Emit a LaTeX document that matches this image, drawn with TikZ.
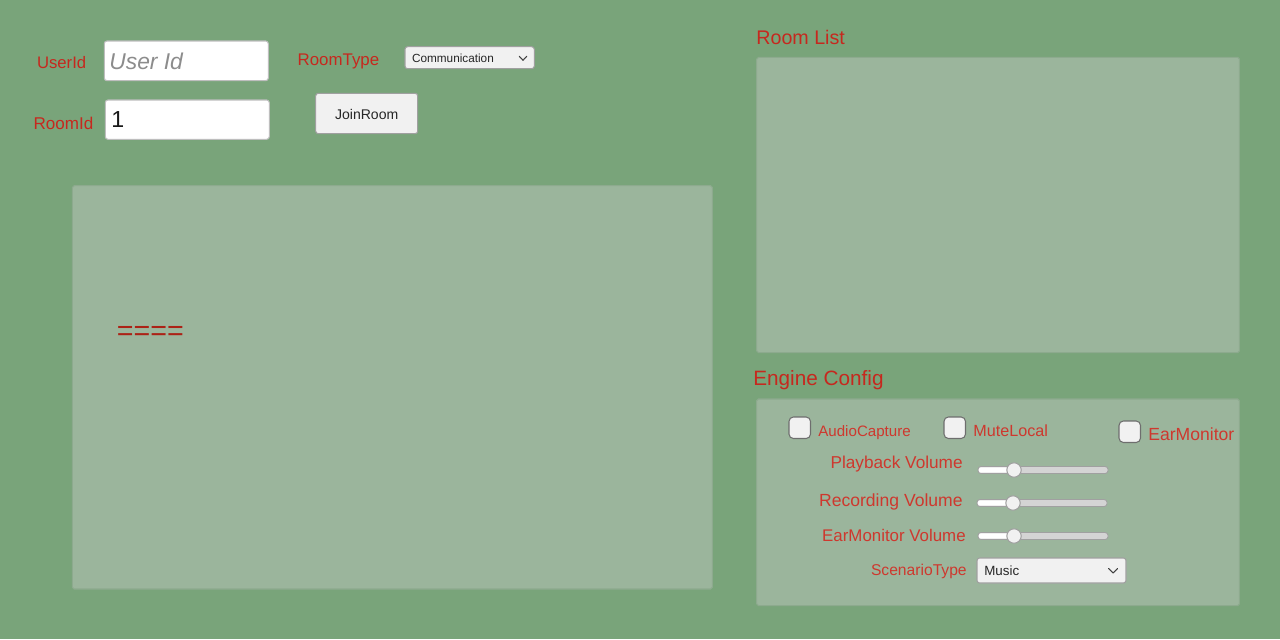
\documentclass[tikz,border=0pt]{standalone}
\usepackage{fontspec}
\setmainfont{Liberation Sans}
\usepackage{xcolor}
\usepackage{tikz}
\usetikzlibrary{positioning}
\definecolor{bggreen}{RGB}{121,164,122}
\definecolor{panelfill}{RGB}{155,181,156}
\definecolor{panelline}{RGB}{141,170,142}
\definecolor{labelred}{RGB}{198,40,30}
\definecolor{cfgred}{RGB}{206,56,46}
\definecolor{eqred}{RGB}{172,34,22}
\definecolor{fieldline}{RGB}{190,190,190}
\definecolor{btnfill}{RGB}{241,241,241}
\definecolor{btnline}{RGB}{160,160,160}
\definecolor{boxline}{RGB}{110,110,110}
\definecolor{trackgrey}{RGB}{212,212,212}
\tikzstyle{panel} = [draw=panelline, fill=panelfill, line width=0.6pt, rounded corners=1pt]
\tikzstyle{field} = [draw=fieldline, fill=white, line width=0.6pt, rounded corners=1.5pt]
\tikzstyle{button} = [draw=btnline, fill=btnfill, line width=0.6pt, rounded corners=1.5pt]
\tikzstyle{checkbox} = [draw=boxline, fill=btnfill, line width=0.6pt, rounded corners=2.5pt]
\tikzstyle{redtext} = [text=labelred, inner sep=0pt, anchor=base west]
\tikzstyle{cfgtext} = [text=cfgred, inner sep=0pt]
\tikzstyle{chevron} = [draw=black!75, line width=0.6pt, line cap=round, line join=round]
\newcommand{\fs}[1]{\fontsize{#1}{#1}\selectfont}

\begin{document}
\begin{tikzpicture}[x=0.02cm, y=-0.02cm]
    \fill[bggreen] (0,0) rectangle (1280,639);
    \useasboundingbox (0,0) rectangle (1280,639);

    % login row
    \node[redtext, font=\fs{9.5}] (userlbl) at (36.7,68.3) {UserId};
    \draw[field] (104.3,41) rectangle (268.3,80.7);
    \node[inner sep=0pt, anchor=base west, text=black!45, font=\fs{13}\itshape] (userhint) at (109,69) {User Id};
    \node[redtext, font=\fs{9.7}] (roomlbl) at (33.3,129) {RoomId};
    \draw[field] (105.3,100) rectangle (269.3,139.3);
    \node[inner sep=0pt, anchor=base west, text=black!90, font=\fs{13.2}] (roomval) at (111,127.7) {1};
    \node[redtext, font=\fs{9.6}] (typelbl) at (297.3,65) {RoomType};
    \draw[button] (405,46.7) rectangle (534.3,68.7);
    \node[inner sep=0pt, anchor=base west, text=black!85, font=\fs{6.7}] (typeval) at (411.7,62.3) {Communication};
    \draw[chevron] (519.3,56.3) -- (523,60.3) -- (526.7,56.3);
    \draw[button] (315.7,93.3) rectangle (417.7,133.7);
    \node[inner sep=0pt, text=black!85, font=\fs{8}] (join) at (366.7,114) {JoinRoom};

    % video area
    \draw[panel] (72.3,185.7) rectangle (712.3,589);
    \node[inner sep=0pt, anchor=base west, text=eqred, font=\fs{16.3}] (status) at (116.5,340) {====};

    % room list
    \node[redtext, font=\fs{11.2}] (listtitle) at (756,44.3) {Room List};
    \draw[panel] (756.7,57.3) rectangle (1239.3,352.7);

    % engine config
    \node[redtext, font=\fs{11.8}] (cfgtitle) at (753,385) {Engine Config};
    \draw[panel] (756.7,399) rectangle (1239.3,605.7);
    \foreach \x/\y/\nm/\txt/\sz in {789/417/capture/AudioCapture/8.6, 944/417/mute/MuteLocal/9.2, 1119/421/ear/EarMonitor/10}{
        \draw[checkbox] (\x,\y) rectangle ++(21.5,21.5);
        \node[cfgtext, anchor=base west, font=\fs{\sz}] (\nm) at (\x+29,\y+19.5) {\txt};
    }
    \node[cfgtext, anchor=base east, font=\fs{9.8}] (playlbl) at (963,468.7) {Playback Volume};
    \node[cfgtext, anchor=base east, font=\fs{10}] (reclbl) at (963,506.7) {Recording Volume};
    \node[cfgtext, anchor=base east, font=\fs{9.6}] (earlbl) at (966,541.7) {EarMonitor Volume};
    \foreach \x/\y/\t in {978/470/1014, 977/503/1013, 978/536/1014}{
        \draw[btnline, fill=trackgrey, line width=0.5pt, rounded corners=1.6pt] (\x,\y-3.5) rectangle (\x+130,\y+3.5);
        \fill[white, rounded corners=1.3pt] (\x+0.8,\y-2.7) rectangle (\t,\y+2.7);
        \draw[btnline, fill=btnfill, line width=0.6pt] (\t,\y) circle (7.2);
    }
    \node[cfgtext, anchor=base east, font=\fs{8.9}] (scenlbl) at (967,575.7) {ScenarioType};
    \draw[button] (977,558) rectangle (1126,583);
    \node[inner sep=0pt, anchor=base west, text=black!85, font=\fs{7.6}] (scenval) at (984,575) {Music};
    \draw[chevron] (1108.5,568.5) -- (1113,573) -- (1117.5,568.5);
\end{tikzpicture}
\end{document}
